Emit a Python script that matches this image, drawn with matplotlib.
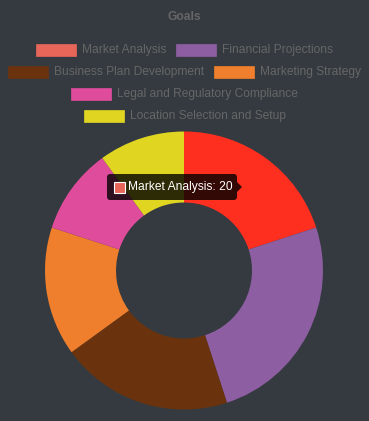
import matplotlib

matplotlib.use("Agg")
import matplotlib.pyplot as plt
from matplotlib.patches import FancyBboxPatch, Polygon, Rectangle

W, H = 369, 421
BG = "#343a40"
TEXT_GREY = "#666666"

labels = [
    "Market Analysis",
    "Financial Projections",
    "Business Plan Development",
    "Marketing Strategy",
    "Legal and Regulatory Compliance",
    "Location Selection and Setup",
]
values = [20, 25, 20, 15, 10, 10]
colors = ["#e8655a", "#8e5ea2", "#6b330d", "#ef7f2c", "#e04c9c", "#e0d622"]
hover_color = "#ff2f20"  # hovered slice is drawn brighter
hovered = 0

FS = 12 * 72 / 100  # 12px font at dpi 100
FONT = "Liberation Sans"

fig = plt.figure(figsize=(W / 100, H / 100), dpi=100)
fig.patch.set_facecolor(BG)
ax = fig.add_axes([0, 0, 1, 1])
ax.set_facecolor(BG)


def py(y):
    # pixel y from top -> data y
    return H - y


# doughnut
cx, cy, r_out, r_in = 184, 270.5, 139, 68
slice_colors = list(colors)
slice_colors[hovered] = hover_color
ax.pie(values, colors=slice_colors, startangle=90, counterclock=False,
       center=(cx, py(cy)), radius=r_out, frame=True,
       wedgeprops=dict(width=r_out - r_in, edgecolor="none", linewidth=0))
ax.set_xlim(0, W)
ax.set_ylim(0, H)
ax.set_aspect("equal")
ax.axis("off")

# title
ax.text(184, py(17), "Goals", ha="center", va="center", fontsize=FS,
        fontweight="bold", color=TEXT_GREY, family=FONT)

# legend, laid out in centred rows like Chart.js
renderer = fig.canvas.get_renderer()
box_w, box_h, pad = 40, 12, 10
widths = []
for lab in labels:
    t = ax.text(0, 0, lab, fontsize=FS, family=FONT)
    widths.append(t.get_window_extent(renderer).width)
    t.remove()

max_row = W
rows, cur, cur_w = [], [], 0
for i, tw in enumerate(widths):
    iw = box_w + 6 + tw
    need = iw if not cur else cur_w + pad + iw
    if cur and need > max_row:
        rows.append((cur, cur_w))
        cur, cur_w = [(i, iw)], iw
    else:
        cur.append((i, iw))
        cur_w = need
rows.append((cur, cur_w))

row_y = 50
for items, rw in rows:
    x = (W - rw) / 2
    for i, iw in items:
        ax.add_patch(Rectangle((x, py(row_y) - box_h / 2), box_w, box_h,
                               facecolor=colors[i], edgecolor=colors[i], lw=0.5))
        ax.text(x + box_w + 6, py(row_y), labels[i], ha="left", va="center",
                fontsize=FS, color=TEXT_GREY, family=FONT)
        x += iw + pad
    row_y += 22

# tooltip
tx0, tx1, ty0, ty1 = 107, 237, 174, 200
ax.add_patch(FancyBboxPatch((tx0 + 3, py(ty1) + 3), tx1 - tx0 - 6, ty1 - ty0 - 6,
                            boxstyle="round,pad=3", facecolor=(0, 0, 0, 0.8),
                            edgecolor="none", zorder=5))
mid = (ty0 + ty1) / 2
ax.add_patch(Polygon([(tx1, py(mid - 5)), (tx1 + 5, py(mid)), (tx1, py(mid + 5))],
                     closed=True, facecolor=(0, 0, 0, 0.8), edgecolor="none", zorder=5))
ax.add_patch(Rectangle((114, py(mid) - 5.5), 11, 11, facecolor=colors[hovered],
                       edgecolor="#ffffff", lw=0.8, zorder=6))
ax.text(128, py(mid), f"{labels[hovered]}: {values[hovered]}", ha="left",
        va="center", fontsize=FS, color="#ffffff", family=FONT, zorder=7)

fig.savefig("out.png", dpi=100, facecolor=BG)
